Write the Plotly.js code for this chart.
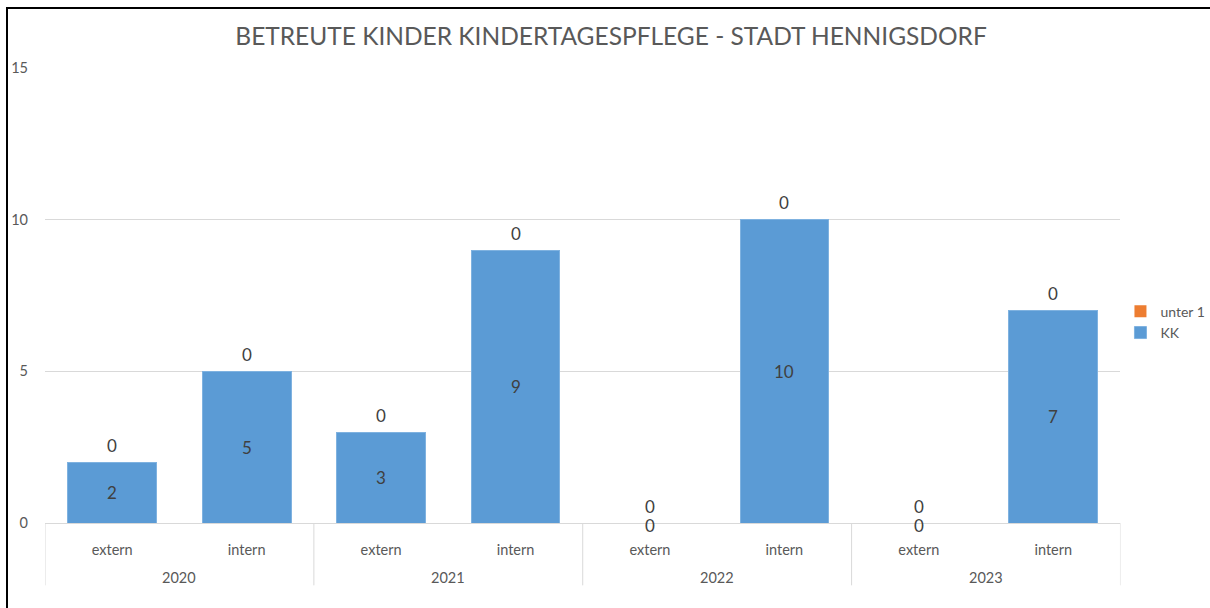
<!DOCTYPE html>
<html>
<head>
<meta charset="utf-8">
<script src="https://cdn.plot.ly/plotly-3.0.1.min.js"></script>
<style>
html,body{margin:0;padding:0;background:#fff;}
#chart{position:absolute;left:0;top:0;width:1210px;height:608px;}
#bl{position:absolute;left:6px;top:8px;width:2px;height:600px;background:#000;}
#bt{position:absolute;left:6px;top:7px;width:1204px;height:2px;background:#000;}
</style>
</head>
<body>
<div id="chart"></div>
<div id="bl"></div>
<div id="bt"></div>
<script>
const years = ["2020","2020","2021","2021","2022","2022","2023","2023"];
const types = ["extern","intern","extern","intern","extern","intern","extern","intern"];
const kk = [2,5,3,9,0,10,0,7];
const unter1 = [0,0,0,0,0,0,0,0];
const yTicks = [0,5,10,15];

const font = "Lato, 'Open Sans', sans-serif";
const grey = '#d9d9d9';
const cats = years.map((y,i)=>y+' '+types[i]);
const totals = kk.map((v,i)=>v+unter1[i]);

const traces = [
  {type:'bar', name:'KK', x:cats, y:kk, marker:{color:'#5B9BD5', line:{color:'#7fb2e0', width:1}}, hoverinfo:'skip'},
  {type:'bar', name:'unter 1', x:cats, y:unter1, marker:{color:'#ED7D31'}, hoverinfo:'skip'}
];

const annotations = [];
const labelFont = {family:font, size:17, color:'#404040'};
kk.forEach((v,i)=>{
  annotations.push({x:i, y:v/2, xref:'x', yref:'y', text:String(v), showarrow:false, font:labelFont,
                    yshift: v===0 ? -2 : 0});
  annotations.push({x:i, y:totals[i], xref:'x', yref:'y', text:String(unter1[i]), showarrow:false, font:labelFont,
                    yshift:17});
});
// year group labels & dividers
const uniqueYears = [...new Set(years)];
const shapes = [];
uniqueYears.forEach(yr=>{
  const idx = years.map((y,i)=>y===yr?i:-1).filter(i=>i>=0);
  const first = idx[0], last = idx[idx.length-1];
  annotations.push({x:(first+last)/2, xref:'x', y:-0.119, yref:'paper', text:yr, showarrow:false,
                    yanchor:'middle', font:{family:font, size:14.5, color:'#595959'}});
  shapes.push({type:'line', xref:'x', yref:'paper', x0:first-0.5, x1:first-0.5, y0:0, y1:-0.137, line:{color:grey, width:1}});
  if (yr===uniqueYears[uniqueYears.length-1])
    shapes.push({type:'line', xref:'x', yref:'paper', x0:last+0.5, x1:last+0.5, y0:0, y1:-0.137, line:{color:grey, width:1}});
});

const layout = {
  width:1210, height:608,
  margin:{l:45, r:88, t:68, b:85},
  paper_bgcolor:'#fff', plot_bgcolor:'#fff',
  barmode:'stack', bargap:0.34,
  title:{text:'BETREUTE KINDER KINDERTAGESPFLEGE - STADT HENNIGSDORF', x:0.505, xanchor:'center', y:0.94, yanchor:'middle',
         font:{family:font, size:24.5, color:'#595959'}},
  xaxis:{type:'category', range:[-0.5, cats.length-0.5], tickvals:cats, ticktext:types,
         showgrid:false, showline:true, linecolor:grey, linewidth:1,
         tickfont:{family:font, size:14.5, color:'#595959'}, ticks:'', ticklabelstandoff:14, zeroline:false},
  yaxis:{range:[0,15], tickvals:yTicks, ticktext:yTicks.map(String), showgrid:true, gridcolor:grey, gridwidth:1,
         zeroline:false, showline:false, ticks:'', ticklabelstandoff:16,
         tickfont:{family:font, size:14.5, color:'#595959'}},
  legend:{xref:'container', yref:'container', x:0.926, y:0.47, xanchor:'left', yanchor:'middle', traceorder:'reversed',
          font:{family:font, size:14, color:'#595959'}, itemwidth:30, bgcolor:'rgba(0,0,0,0)', borderwidth:0},
  showlegend:true,
  annotations:annotations,
  shapes:shapes
};

Plotly.newPlot('chart', traces, layout, {displayModeBar:false, staticPlot:true});
</script>
</body>
</html>
